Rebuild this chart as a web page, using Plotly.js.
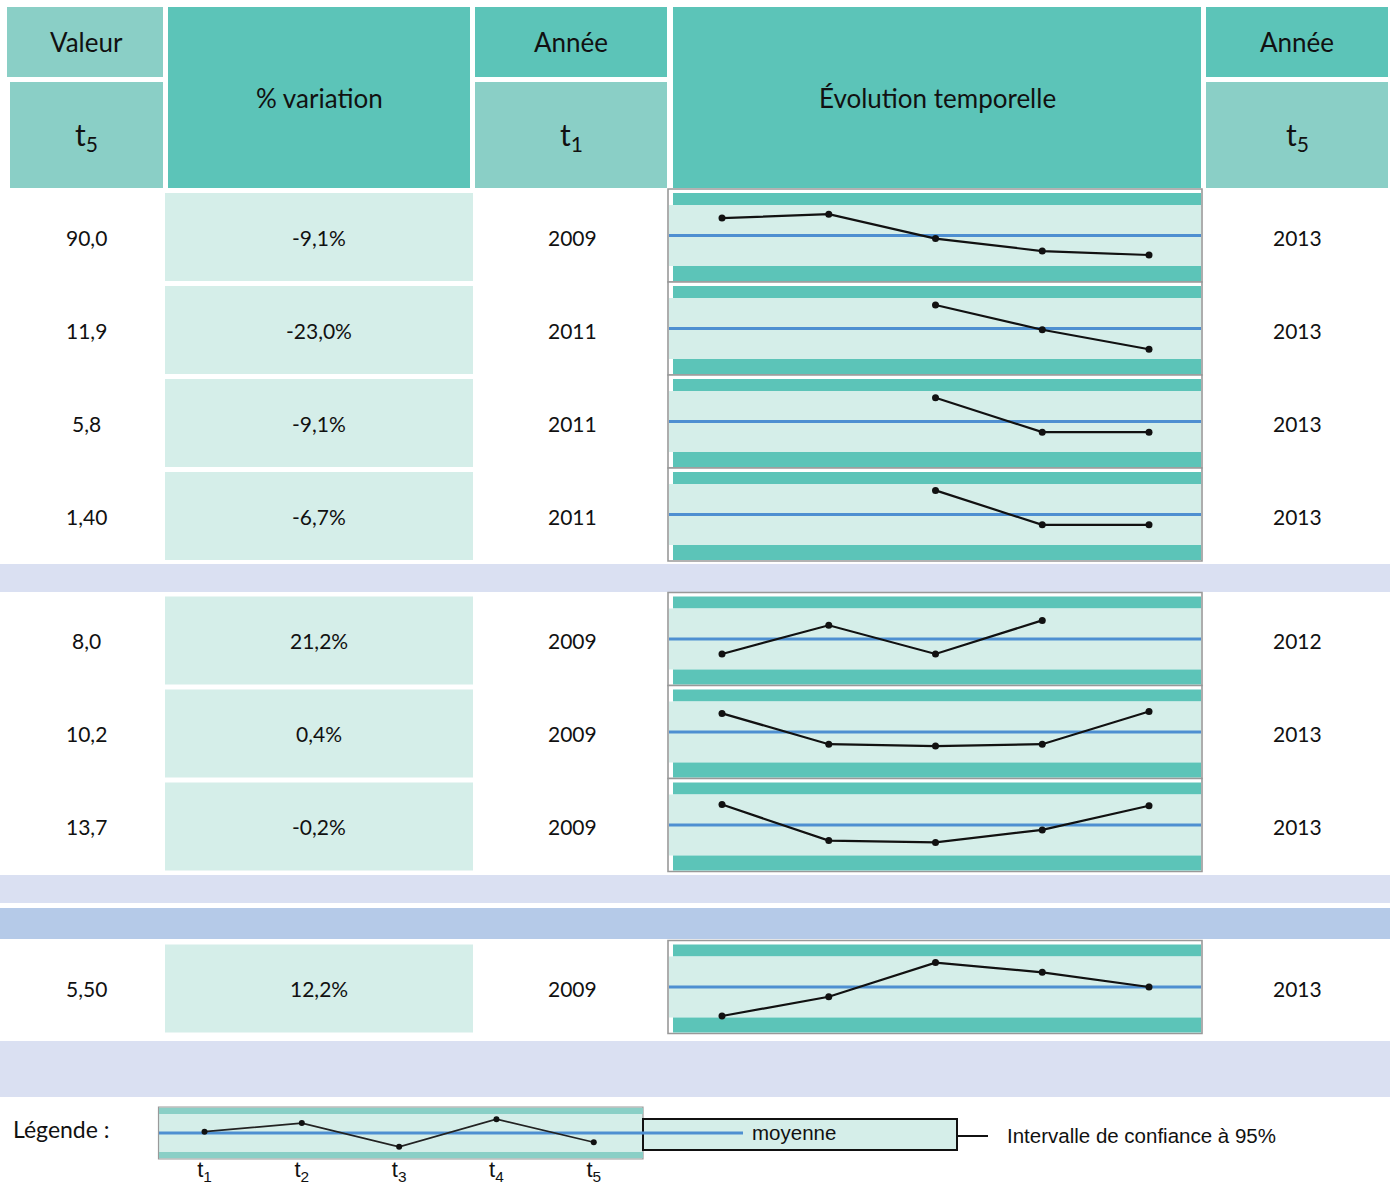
<!DOCTYPE html>
<html>
<head>
<meta charset="utf-8">
<script src="https://cdn.plot.ly/plotly-3.0.1.min.js"></script>
<style>html,body{margin:0;padding:0;background:#fff;}#chart{width:1390px;height:1188px;}</style>
</head>
<body>
<div id="chart"></div>
<script>
// ---------- DATA ----------
const valeurT5   = ['90,0', '11,9', '5,8', '1,40', '8,0', '10,2', '13,7', '5,50'];
const variation  = ['-9,1%', '-23,0%', '-9,1%', '-6,7%', '21,2%', '0,4%', '-0,2%', '12,2%'];
const anneeT1    = ['2009', '2011', '2011', '2011', '2009', '2009', '2009', '2009'];
const anneeT5    = ['2013', '2013', '2013', '2013', '2012', '2013', '2013', '2013'];
const periods    = [1, 2, 3, 4, 5];
const periodLabels = ['t<sub>1</sub>', 't<sub>2</sub>', 't<sub>3</sub>', 't<sub>4</sub>', 't<sub>5</sub>'];
// position of each point relative to the mean, in half-widths of the 95% interval
const serie1 = [0.57, 0.70, -0.10, -0.51, -0.64];
const serie2 = [null, null, 0.77, -0.04, -0.68];
const serie3 = [null, null, 0.78, -0.35, -0.35];
const serie4 = [null, null, 0.79, -0.34, -0.34];
const serie5 = [-0.49, 0.45, -0.49, 0.61, null];
const serie6 = [0.61, -0.40, -0.46, -0.40, 0.67];
const serie7 = [0.67, -0.51, -0.57, -0.16, 0.63];
const serie8 = [-0.95, -0.32, 0.80, 0.48, 0.00];
const legendSerie = [0.07, 0.52, -0.73, 0.73, -0.49];
const headerTexts = {valeur: 'Valeur', variation: '% variation', annee: 'Année', evolution: 'Évolution temporelle', t5: 't<sub>5</sub>', t1: 't<sub>1</sub>'};
const legendTexts = {legende: 'Légende :', moyenne: 'moyenne', intervalle: 'Intervalle de confiance à 95%'};

// ---------- LAYOUT CONSTANTS ----------
const W = 1390, H = 1188;
const DARK = '#5CC4B8', LIGHT = '#8ACFC6', PALE = '#D5EEE9', LAV = '#DAE0F2', BLUEBAND = '#B5CAE8', MEAN = '#4E8FD1';
const MAIN = 'Lato, "Open Sans", sans-serif';
const NARROW = '"Liberation Sans Narrow", "Arial Narrow", "Liberation Sans", Arial, sans-serif';
const groupTops = [189, 592.5, 940.5];
const groupCounts = [4, 3, 1];
const ROWH = 93;
const series = [serie1, serie2, serie3, serie4, serie5, serie6, serie7, serie8];

const X = p => p / W;
const Y = p => 1 - p / H;
const shapes = [];
const annotations = [];
function rect(x0, y0, x1, y1, fill, line) {
  shapes.push({type: 'rect', xref: 'paper', yref: 'paper', x0: X(x0), x1: X(x1), y0: Y(y1), y1: Y(y0),
    fillcolor: fill, line: line || {width: 0}, layer: 'below'});
}
function text(cx, cy, t, size, family, extra) {
  annotations.push(Object.assign({xref: 'paper', yref: 'paper', x: X(cx), y: Y(cy), text: t, showarrow: false,
    xanchor: 'center', yanchor: 'middle', font: {family: family || MAIN, size: size, color: '#111'}}, extra || {}));
}

// header
rect(7, 7, 163, 77, LIGHT);
rect(10, 82, 163, 188, LIGHT);
rect(168, 7, 470, 188, DARK);
rect(475, 7, 667, 77, DARK);
rect(475, 82, 667, 188, LIGHT);
rect(673, 7, 1201, 188, DARK);
rect(1206, 7, 1388, 77, DARK);
rect(1206, 82, 1388, 188, LIGHT);
text(87, 42, headerTexts.valeur, 26);
text(87, 136, headerTexts.t5, 30);
text(319, 98, headerTexts.variation, 26);
text(571, 42, headerTexts.annee, 26);
text(571, 136, headerTexts.t1, 30);
text(937, 98, headerTexts.evolution, 26);
text(1297, 42, headerTexts.annee, 26);
text(1297, 136, headerTexts.t5, 30);

// separators
rect(0, 564, 1390, 592, LAV);
rect(0, 875, 1390, 903, LAV);
rect(0, 908, 1390, 939, BLUEBAND);
rect(0, 1041, 1390, 1097, LAV);

// rows
const rowTops = [];
groupTops.forEach((g, gi) => { for (let k = 0; k < groupCounts[gi]; k++) rowTops.push(g + k * ROWH); });

const data = [];
const layout = {
  width: W, height: H, margin: {l: 0, r: 0, t: 0, b: 0},
  paper_bgcolor: '#fff', plot_bgcolor: 'rgba(0,0,0,0)', showlegend: false,
  shapes: shapes, annotations: annotations
};

rowTops.forEach((T, i) => {
  const n = i + 1;
  const cy = T + 48;
  rect(165, T + 4, 473, T + 92, PALE);
  text(87, cy, valeurT5[i], 21);
  text(319, cy, variation[i], 21);
  text(572, cy, anneeT1[i], 21);
  text(1297, cy, anneeT5[i], 21);
  // sparkline frame
  rect(668, T, 1202, T + ROWH, '#fff', {color: '#999', width: 1.6});
  rect(673, T + 4, 1201, T + 16, DARK);
  rect(669, T + 16, 1201, T + 77, PALE);
  rect(673, T + 77, 1201, T + 92, DARK);
  shapes.push({type: 'line', xref: 'paper', yref: 'y' + n, x0: X(669), x1: X(1201), y0: 0, y1: 0,
    line: {color: MEAN, width: 3}, layer: 'below'});
  layout['xaxis' + n] = {domain: [X(668), X(1202)], range: [0.494, 5.4965], anchor: 'y' + n,
    showgrid: false, zeroline: false, showticklabels: false, ticks: '', fixedrange: true};
  layout['yaxis' + n] = {domain: [Y(T + 77), Y(T + 16)], range: [-1, 1], anchor: 'x' + n,
    showgrid: false, zeroline: false, showticklabels: false, ticks: '', fixedrange: true};
  data.push({type: 'scatter', mode: 'lines+markers', x: periods, y: series[i], xaxis: 'x' + n, yaxis: 'y' + n,
    line: {color: '#111', width: 2.2}, marker: {color: '#111', size: 7}, cliponaxis: false, hoverinfo: 'skip'});
});

// legend
text(61, 1129, legendTexts.legende, 23);
rect(158.5, 1107, 643, 1159, PALE, {color: '#9a9a9a', width: 1.2});
rect(159, 1108, 643, 1114, LIGHT);
rect(159, 1152, 643, 1158, LIGHT);
rect(643, 1119, 957, 1150, PALE, {color: '#111', width: 2});
const L = 9;
shapes.push({type: 'line', xref: 'paper', yref: 'y' + L, x0: X(159), x1: X(743), y0: 0, y1: 0,
  line: {color: MEAN, width: 3}, layer: 'below'});
shapes.push({type: 'line', xref: 'paper', yref: 'paper', x0: X(957), x1: X(988), y0: Y(1136), y1: Y(1136),
  line: {color: '#111', width: 2}, layer: 'below'});
text(794, 1132, legendTexts.moyenne, 20.5, NARROW);
text(1141, 1135, legendTexts.intervalle, 20.5, NARROW);
layout['xaxis' + L] = {domain: [X(158.5), X(643)], range: [0.527, 5.506], anchor: 'y' + L,
  showgrid: false, zeroline: false, ticks: '', tickvals: periods, ticktext: periodLabels, ticklabelstandoff: 2,
  tickfont: {family: NARROW, size: 22, color: '#111'}, fixedrange: true};
layout['yaxis' + L] = {domain: [Y(1152), Y(1114)], range: [-1, 1], anchor: 'x' + L,
  showgrid: false, zeroline: false, showticklabels: false, ticks: '', fixedrange: true};
data.push({type: 'scatter', mode: 'lines+markers', x: periods, y: legendSerie, xaxis: 'x' + L, yaxis: 'y' + L,
  line: {color: '#222', width: 1.6}, marker: {color: '#111', size: 6}, cliponaxis: false, hoverinfo: 'skip'});

Plotly.newPlot('chart', data, layout, {staticPlot: true, displayModeBar: false});
</script>
</body>
</html>
